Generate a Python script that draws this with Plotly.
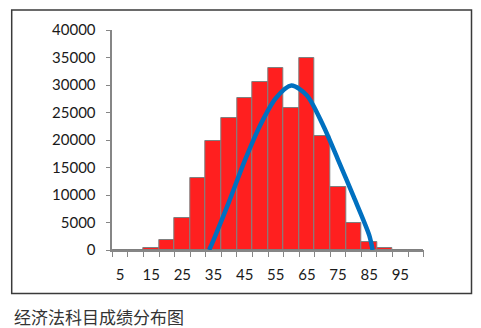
import plotly.graph_objects as go

# Score bins (upper labels every 5 points) and student counts per bin
score_bins = [5, 10, 15, 20, 25, 30, 35, 40, 45, 50, 55, 60, 65, 70, 75, 80, 85, 90, 95, 100]
counts = [0, 0, 420, 1760, 5760, 13030, 19820, 23940, 27700, 30480,
          33030, 25880, 34970, 20730, 11520, 4970, 1520, 300, 0, 0]

# Fitted distribution curve
curve_x = [33.6, 35, 40, 45, 50, 55, 60, 65, 70, 75, 80, 85, 86.1]
curve_y = [0, 1800, 8800, 16200, 22700, 27600, 29900, 28100, 22900, 16400, 9700, 2700, 0]

# Axis labelling
x_labels = [5, 15, 25, 35, 45, 55, 65, 75, 85, 95]
y_ticks = [0, 5000, 10000, 15000, 20000, 25000, 30000, 35000, 40000]
bin_edges = [b - 2.5 for b in score_bins] + [score_bins[-1] + 2.5]

caption = "经济法科目成绩分布图"

W, H = 481, 328
AXIS_GRAY = "#868686"

fig = go.Figure()
fig.add_trace(go.Bar(
    x=score_bins, y=counts, width=5,
    marker=dict(color="#FF1F1F", line=dict(color="#7F7F7F", width=1)),
    showlegend=False,
))
fig.add_trace(go.Scatter(
    x=curve_x, y=curve_y, mode="lines",
    line=dict(color="#0070C0", width=4.5, shape="spline", smoothing=0.8),
    showlegend=False,
))

# Plot area placement in pixels
px_left, px_right = 112.3, 423.7
px_top, px_bottom = 30, 250

fig.update_layout(
    width=W, height=H,
    margin=dict(l=0, r=0, t=0, b=0, autoexpand=False),
    paper_bgcolor="white", plot_bgcolor="white",
    bargap=0,
    font=dict(family="Lato, Carlito, 'Liberation Sans', sans-serif", size=15, color="#1a1a1a"),
    xaxis=dict(
        domain=[px_left / W, px_right / W],
        range=[2.5, 102.5],
        automargin=False,
        tickmode="array", tickvals=x_labels, ticktext=[str(v) for v in x_labels],
        ticks="", showgrid=False, zeroline=False,
        showline=True, linecolor=AXIS_GRAY, linewidth=1.5,
        ticklabelstandoff=10,
        minor=dict(tickmode="array", tickvals=bin_edges, ticks="outside",
                   ticklen=5, tickcolor=AXIS_GRAY, tickwidth=1.2, showgrid=False),
    ),
    yaxis=dict(
        domain=[(H - px_bottom) / H, (H - px_top) / H],
        range=[0, 40000],
        automargin=False,
        tickmode="array", tickvals=y_ticks, ticktext=[str(v) for v in y_ticks],
        ticks="outside", ticklen=5, tickcolor=AXIS_GRAY, tickwidth=1.2,
        showgrid=False, zeroline=False,
        showline=True, linecolor=AXIS_GRAY, linewidth=1.5,
        ticklabelstandoff=7,
    ),
    shapes=[dict(
        type="rect", xref="paper", yref="paper",
        x0=11.7 / W, x1=471.5 / W, y0=(H - 293.5) / H, y1=(H - 10) / H,
        line=dict(color="#3a3a3a", width=1.5), fillcolor="rgba(0,0,0,0)",
    )],
    annotations=[dict(
        text=caption, xref="paper", yref="paper",
        x=12 / W, y=(H - 316) / H, xanchor="left", yanchor="middle",
        showarrow=False,
        font=dict(family="'Noto Sans CJK SC', sans-serif", size=17, color="#333333"),
    )],
)

fig.write_html("out.html")
